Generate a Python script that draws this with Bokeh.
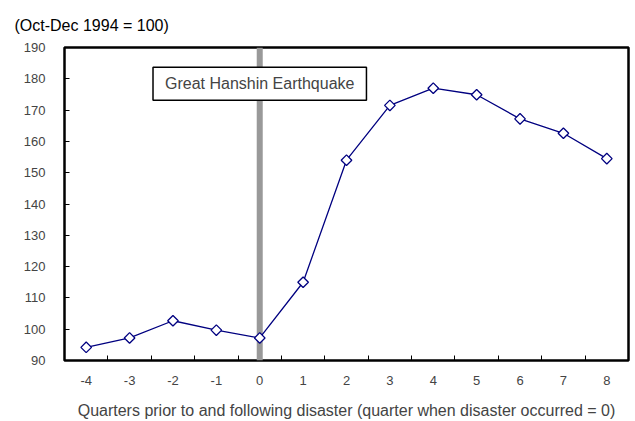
import math
from bokeh.plotting import figure
from bokeh.models import FixedTicker, Span, Label, Range1d, ColumnDataSource
from bokeh.embed import file_html
from bokeh.resources import INLINE

quarters = [-4, -3, -2, -1, 0, 1, 2, 3, 4, 5, 6, 7, 8]
index_values = [94.2, 97.2, 102.7, 99.7, 97.2, 115.0, 154.0, 171.5, 177.0, 174.9, 167.2, 162.6, 154.5]
y_ticks = [90, 100, 110, 120, 130, 140, 150, 160, 170, 180, 190]
disaster_quarter = 0
title_text = "(Oct-Dec 1994 = 100)"
x_label = "Quarters prior to and following disaster (quarter when disaster occurred = 0)"
event_label = "Great Hanshin Earthquake"

FONT = "Liberation Sans"
NAVY = "#000080"

p = figure(width=635, height=421, output_backend="svg", toolbar_location=None,
           x_range=Range1d(quarters[0] - 0.5, quarters[-1] + 0.5),
           y_range=Range1d(y_ticks[0], y_ticks[-1]),
           min_border_left=64, min_border_right=7, min_border_top=46, min_border_bottom=60)

p.title.text = title_text
p.title.align = "left"
p.title.offset = -50
p.title.standoff = 28
p.title.text_font = FONT
p.title.text_font_size = "16px"
p.title.text_font_style = "normal"
p.title.text_color = "#000000"

p.xgrid.visible = False
p.ygrid.visible = False
p.outline_line_color = "black"
p.outline_line_width = 2.5
p.background_fill_color = "white"
p.border_fill_color = "white"

half = [q + 0.5 for q in quarters[:-1]]
p.xaxis.ticker = FixedTicker(ticks=quarters, minor_ticks=half)
p.xaxis.major_label_overrides = {q: str(q) for q in quarters}
p.xaxis.major_tick_line_color = None
p.xaxis.minor_tick_in = 5
p.xaxis.minor_tick_out = 0
p.xaxis.minor_tick_line_color = "black"
p.xaxis.minor_tick_line_width = 1
p.xaxis.axis_line_color = None
p.xaxis.major_label_text_font = FONT
p.xaxis.major_label_text_font_size = "13px"
p.xaxis.major_label_standoff = 9
p.xaxis.axis_label = x_label
p.xaxis.axis_label_text_font = FONT
p.xaxis.axis_label_text_font_size = "16px"
p.xaxis.axis_label_text_font_style = "normal"
p.xaxis.axis_label_standoff = 14

p.yaxis.ticker = FixedTicker(ticks=y_ticks, minor_ticks=[])
p.yaxis.major_label_overrides = {t: str(t) for t in y_ticks}
p.yaxis.major_tick_in = 5
p.yaxis.major_tick_out = 0
p.yaxis.major_tick_line_color = "black"
p.yaxis.axis_line_color = None
p.yaxis.major_label_text_font = FONT
p.yaxis.major_label_text_font_size = "13px"
p.yaxis.major_label_standoff = 19

span = Span(location=disaster_quarter, dimension="height", line_color="#999999",
            line_width=6, level="underlay")
p.add_layout(span)

src = ColumnDataSource(dict(x=quarters, y=index_values))
p.line("x", "y", source=src, line_color=NAVY, line_width=1.3)
p.scatter("x", "y", source=src, marker="square", angle=math.pi / 4, size=7.5,
          fill_color="white", line_color=NAVY, line_width=1.3)

lab = Label(x=disaster_quarter, y=178.4, text=event_label, text_align="center",
            text_baseline="middle", text_font=FONT, text_font_size="16px",
            background_fill_color="white", border_line_color="black", border_line_width=1.5,
            padding=dict(left=12, right=12, top=8, bottom=8))
p.add_layout(lab)

open("out.html", "w").write(file_html(p, INLINE))
